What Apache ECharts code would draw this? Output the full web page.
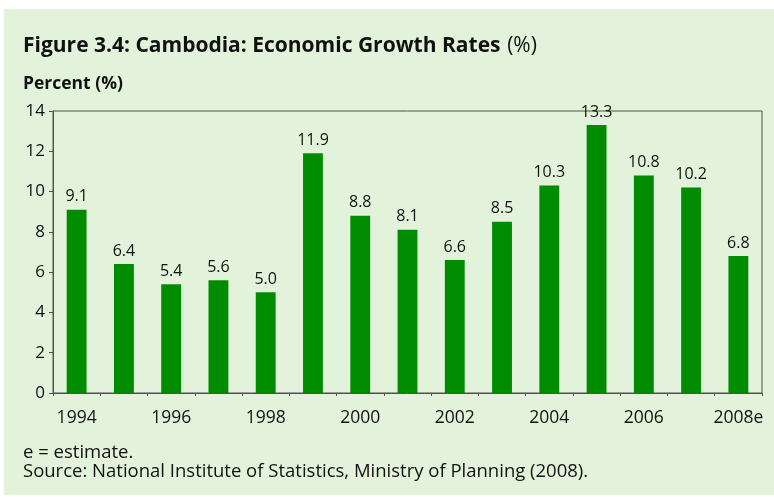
<!DOCTYPE html>
<html>
<head>
<meta charset="utf-8">
<script src="https://cdn.jsdelivr.net/npm/echarts@6/dist/echarts.min.js"></script>
<style>
  html, body { margin: 0; padding: 0; background: #ffffff; }
  #chart { width: 774px; height: 497px; }
</style>
</head>
<body>
<div id="chart"></div>
<script>
// Cambodia: annual real GDP growth, 1994–2008 (2008 estimated)
var years = ['1994', '1995', '1996', '1997', '1998', '1999', '2000', '2001',
             '2002', '2003', '2004', '2005', '2006', '2007', '2008e'];
var growth = [9.1, 6.4, 5.4, 5.6, 5.0, 11.9, 8.8, 8.1, 6.6, 8.5, 10.3, 13.3, 10.8, 10.2, 6.8];
var yTicks = [0, 2, 4, 6, 8, 10, 12, 14];

var FONT = '"Open Sans", "Noto Sans", sans-serif';
var PANEL = '#e3f3db';
var BAR = '#008c00';
var AXIS = '#505050';

var chart = echarts.init(document.getElementById('chart'), null, { renderer: 'canvas' });

chart.setOption({
  backgroundColor: '#ffffff',
  animation: false,
  graphic: [
    {
      type: 'rect', z: -10,
      shape: { x: 4, y: 9, width: 770, height: 486 },
      style: { fill: PANEL }
    },
    {
      type: 'text', left: 23, top: 36,
      style: {
        text: '{b|Figure 3.4: Cambodia: Economic Growth Rates}  {n|(%)}',
        rich: {
          b: { fontFamily: FONT, fontWeight: 'bold', fontSize: 21, fill: '#111' },
          n: { fontFamily: FONT, fontSize: 21, fill: '#111' }
        }
      }
    },
    {
      type: 'text', left: 23, top: 75,
      style: { text: 'Percent (%)', fontFamily: FONT, fontWeight: 'bold', fontSize: 17.5, fill: '#111' }
    },
    {
      type: 'text', left: 23, top: 443,
      style: {
        text: 'e = estimate.\nSource: National Institute of Statistics, Ministry of Planning (2008).',
        fontFamily: FONT, fontSize: 18.5, lineHeight: 19, fill: '#111'
      }
    }
  ],
  grid: {
    left: 53, right: 12, top: 111, bottom: 104,
    show: true, borderColor: AXIS, borderWidth: 1, backgroundColor: 'transparent'
  },
  xAxis: {
    type: 'category',
    data: years,
    axisLine: { lineStyle: { color: AXIS, width: 1 } },
    axisTick: { show: true, alignWithLabel: false, interval: 0, length: 3, lineStyle: { color: AXIS } },
    axisLabel: {
      interval: 1, margin: 16,
      fontFamily: FONT, fontSize: 17.5, color: '#111'
    }
  },
  yAxis: {
    type: 'value',
    min: yTicks[0], max: yTicks[yTicks.length - 1], interval: 2,
    axisLine: { show: true, lineStyle: { color: AXIS, width: 1 } },
    axisTick: { show: true, length: 4, lineStyle: { color: AXIS } },
    splitLine: { show: false },
    axisLabel: { margin: 8, fontFamily: FONT, fontSize: 17, color: '#111' }
  },
  series: [{
    type: 'bar',
    data: growth,
    barWidth: '42%',
    itemStyle: { color: BAR },
    label: {
      show: true, position: 'top', distance: 5,
      formatter: function (p) { return p.value.toFixed(1); },
      fontFamily: FONT, fontSize: 16, color: '#111'
    }
  }]
});
</script>
</body>
</html>
